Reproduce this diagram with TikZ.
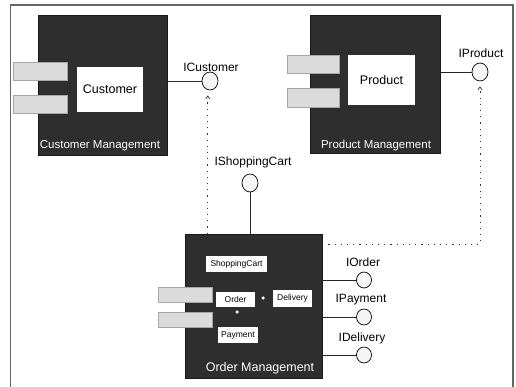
\documentclass[tikz,border=0pt]{standalone}
\usepackage{fontspec}
\setmainfont{Liberation Sans}
\usetikzlibrary{shapes.geometric,arrows.meta,calc}

\tikzset{
  comp/.style={rectangle, fill=black!82, draw=black!90, inner sep=0pt},
  complabel/.style={text=white, font=\fontsize{11.5}{12}\selectfont, inner sep=0pt},
  portbox/.style={rectangle, fill=gray!28, draw=gray!70, line width=0.6pt, inner sep=0pt},
  partbox/.style={rectangle, fill=white, draw=none, inner sep=0pt, font=\fontsize{12.5}{13}\selectfont},
  smallpart/.style={rectangle, fill=white, draw=none, inner sep=0pt, font=\fontsize{8.5}{9}\selectfont},
  iface/.style={ellipse, draw=black, fill=gray!8, line width=0.7pt, inner sep=0pt,
                minimum width=16pt, minimum height=18pt},
  ifacelabel/.style={inner sep=0pt, font=\fontsize{12}{13}\selectfont},
  wire/.style={draw=black!85, line width=0.6pt},
  dep/.style={draw=black!80, line width=0.7pt, dash pattern=on 1.2pt off 5pt,
              -{Straight Barb[length=3pt,width=4pt]}, shorten >=5pt},
  framebar/.style={draw=black!60, line width=1.2pt},
  dotmark/.style={circle, fill=white, inner sep=0pt, minimum size=3.5pt}
}

\begin{document}
\begin{tikzpicture}[x=1pt, y=-1pt]
  \useasboundingbox (0,0) rectangle (516,387);

  % outer frame (open at the bottom)
  \coordinate (fbl) at (10.5,387);
  \coordinate (ftl) at (10.5,5);
  \coordinate (ftr) at (513,5);
  \coordinate (fbr) at (513,387);
  \draw[framebar] (fbl) -- (ftl) -- (ftr) -- (fbr);

  % ---- Customer Management ----
  \node[comp, minimum width=129pt, minimum height=140pt] (cm) at (102.5,85) {};
  \node[portbox, minimum width=54pt, minimum height=18pt] (cmp1) at (40,71) {};
  \node[portbox, minimum width=54pt, minimum height=18pt] (cmp2) at (40,104) {};
  \node[partbox, minimum width=66pt, minimum height=45pt] (cust) at (110,89.5) {Customer};
  \node[complabel] (cmlab) at (100,146) {Customer Management};

  % ---- Product Management ----
  \node[comp, minimum width=130pt, minimum height=138pt] (pm) at (375,84) {};
  \node[portbox, minimum width=52pt, minimum height=18pt] (pmp1) at (313,64) {};
  \node[portbox, minimum width=52pt, minimum height=19pt] (pmp2) at (313,97.5) {};
  \node[partbox, minimum width=67pt, minimum height=50pt] (prod) at (381.5,80) {Product};
  \node[complabel] (pmlab) at (376,146) {Product Management};

  % ---- Order Management ----
  \node[comp, minimum width=137pt, minimum height=144pt] (om) at (253.5,306) {};
  \node[portbox, minimum width=54pt, minimum height=15pt] (omp1) at (185,294.5) {};
  \node[portbox, minimum width=54pt, minimum height=15pt] (omp2) at (185,319.5) {};
  \node[smallpart, minimum width=61pt, minimum height=16pt] (cart) at (236.5,264) {ShoppingCart};
  \node[smallpart, minimum width=39pt, minimum height=15pt] (order) at (235.5,299.5) {Order};
  \node[smallpart, minimum width=39pt, minimum height=17pt] (deliv) at (292.5,298.5) {Delivery};
  \node[smallpart, minimum width=40pt, minimum height=16pt] (pay) at (238,335) {Payment};
  \node[dotmark] (d1) at (263,298) {};
  \node[dotmark] (d2) at (237,312) {};
  \node[complabel, font=\fontsize{12.5}{13}\selectfont] (omlab) at (260,368) {Order Management};

  % ---- provided interfaces ----
  \node[iface] (ic) at (210,81) {};
  \node[ifacelabel] (iclab) at (211,67) {ICustomer};
  \node[iface] (ip) at (480,72) {};
  \node[ifacelabel] (iplab) at (481,53) {IProduct};
  \node[iface] (isc) at (250,183) {};
  \node[ifacelabel] (isclab) at (253,162) {IShoppingCart};
  \node[iface, minimum width=15pt, minimum height=16pt] (io) at (364,280) {};
  \node[ifacelabel] (iolab) at (363,262) {IOrder};
  \node[iface, minimum width=15pt, minimum height=16pt] (ipay) at (364,317) {};
  \node[ifacelabel] (ipaylab) at (361,300) {IPayment};
  \node[iface, minimum width=15pt, minimum height=16pt] (idel) at (364,355) {};
  \node[ifacelabel] (idellab) at (362,338) {IDelivery};

  % interface wires
  \draw[wire] (cm.east |- ic.west) -- (ic.west);
  \draw[wire] (pm.east |- ip.west) -- (ip.west);
  \draw[wire] (isc.south) -- (isc.south |- om.north);
  \draw[wire] (om.east |- io.west) -- (io.west);
  \draw[wire] (om.east |- ipay.west) -- (ipay.west);
  \draw[wire] (om.east |- idel.west) -- (idel.west);

  % usage dependencies of Order Management
  \coordinate (omtop) at ($(om.north west)+(23,0)$);
  \draw[dep] (omtop) -- (omtop |- ic.south);
  \coordinate (omright) at ($(om.north east)+(0,11)$);
  \draw[dep] (omright) -| (ip.south);
\end{tikzpicture}
\end{document}
